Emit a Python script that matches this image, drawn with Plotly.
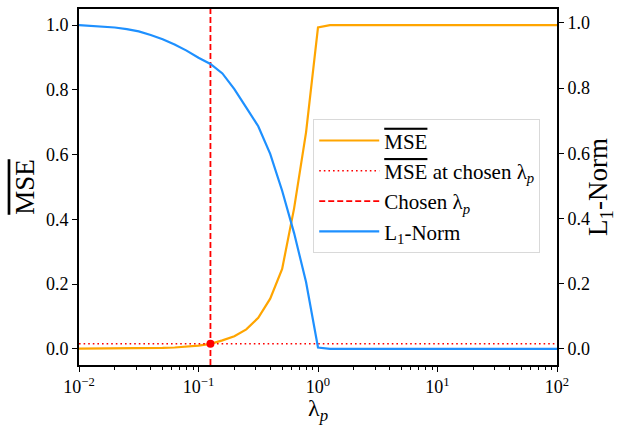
import numpy as np
import plotly.graph_objects as go

# Regularisation grid: lambda_p = 10^(-2 + 0.1 k), k = 0..40
lambda_p = [10 ** (-2 + 0.1 * k) for k in range(41)]

# Normalised mean squared error along the grid
mse_norm = [0.0004, 0.0005, 0.0006, 0.0008, 0.0010, 0.0014, 0.0019, 0.0027,
            0.0040, 0.0062, 0.0097, 0.0155, 0.026, 0.039, 0.060, 0.096,
            0.155, 0.247, 0.434, 0.669, 0.993] + [1.0] * 20

# Normalised L1 norm of the coefficients along the grid
l1_norm = [0.993, 0.991, 0.989, 0.986, 0.981, 0.974, 0.963, 0.950, 0.934,
           0.915, 0.893, 0.874, 0.845, 0.797, 0.740, 0.683, 0.598, 0.485,
           0.355, 0.205, 0.004] + [0.0] * 20

chosen_index = 11
chosen_lambda = lambda_p[chosen_index]
chosen_mse = mse_norm[chosen_index]

x_tick_vals = [0.01, 0.1, 1, 10, 100]
x_tick_text = ["10<sup>−2</sup>", "10<sup>−1</sup>", "10<sup>0</sup>",
               "10<sup>1</sup>", "10<sup>2</sup>"]
x_minor_vals = [m * 10.0 ** e for e in range(-2, 2) for m in range(2, 10)]

FONT = "Liberation Serif, Times New Roman, serif"
ORANGE = "#FFA500"
BLUE = "#1E90FF"
RED = "#FF0000"
MSE_BAR = "<span style='text-decoration:overline'>MSE</span>"
LAM_P = "λ<sub><i>p</i></sub>"

fig = go.Figure()
fig.add_trace(go.Scatter(x=lambda_p, y=mse_norm, mode="lines",
                         line=dict(color=ORANGE, width=2.2),
                         name=MSE_BAR, yaxis="y"))
fig.add_trace(go.Scatter(x=[lambda_p[0], lambda_p[-1]], y=[chosen_mse, chosen_mse],
                         mode="lines", line=dict(color=RED, width=1.6, dash="1.6px,3px"),
                         name=MSE_BAR + " at chosen " + LAM_P, yaxis="y"))
fig.add_trace(go.Scatter(x=[chosen_lambda, chosen_lambda], y=[-0.05, 1.05],
                         mode="lines", line=dict(color=RED, width=1.8, dash="6px,3px"),
                         name="Chosen " + LAM_P, yaxis="y"))
fig.add_trace(go.Scatter(x=[chosen_lambda], y=[chosen_mse], mode="markers",
                         marker=dict(color=RED, size=8), showlegend=False, yaxis="y"))
fig.add_trace(go.Scatter(x=lambda_p, y=l1_norm, mode="lines",
                         line=dict(color=BLUE, width=2.2),
                         name="L<sub>1</sub>-Norm", yaxis="y2"))

axis_common = dict(showline=True, linecolor="black", linewidth=1.6,
                   ticks="outside", ticklen=5, tickwidth=1.3, tickcolor="black",
                   showgrid=False, zeroline=False, automargin=False,
                   tickfont=dict(family=FONT, size=18, color="black"))

fig.update_layout(
    width=617, height=426,
    margin=dict(l=79, r=60, t=9, b=61),
    paper_bgcolor="white", plot_bgcolor="white",
    font=dict(family=FONT, color="black"),
    xaxis=dict(type="log", range=[-2, 2], tickvals=x_tick_vals, ticktext=x_tick_text,
               mirror=True,
               minor=dict(tickvals=x_minor_vals, ticks="outside", ticklen=3,
                          tickwidth=1, tickcolor="black", showgrid=False),
               **axis_common),
    yaxis=dict(range=[-0.05, 1.05], dtick=0.2, tickformat=".1f",
               title=dict(text=MSE_BAR, font=dict(family=FONT, size=27), standoff=4),
               **axis_common),
    yaxis2=dict(range=[-0.0497, 1.0427], dtick=0.2, tickformat=".1f",
                overlaying="y", side="right",
                title=dict(text="L<sub>1</sub>-Norm", font=dict(family=FONT, size=27),
                           standoff=6),
                **axis_common),
    legend=dict(x=0.49, y=0.69, xanchor="left", yanchor="top",
                bgcolor="rgba(255,255,255,0.8)", bordercolor="#d9d9d9", borderwidth=1,
                font=dict(family=FONT, size=21, color="black"),
                tracegroupgap=0, itemwidth=60),
)

# x-axis title placed as a paper annotation below the tick labels
fig.add_annotation(text=LAM_P, xref="paper", yref="paper", x=0.5, y=-0.079,
                   xanchor="center", yanchor="top", showarrow=False,
                   font=dict(family=FONT, size=24, color="black"))

fig.write_html("out.html")
